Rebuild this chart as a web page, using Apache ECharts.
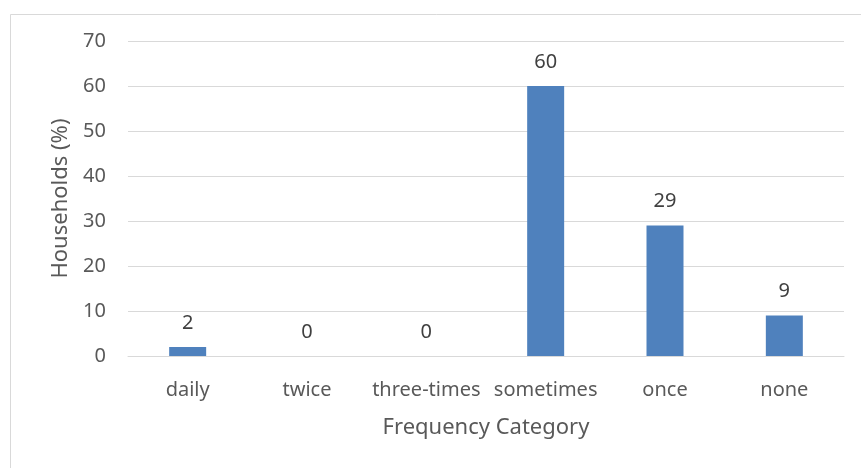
<!DOCTYPE html>
<html>
<head>
<meta charset="utf-8">
<style>
  html, body { margin: 0; padding: 0; background: #ffffff; }
  #chart { width: 861px; height: 468px; }
</style>
<script src="https://cdn.jsdelivr.net/npm/echarts@6/dist/echarts.min.js"></script>
</head>
<body>
<div id="chart"></div>
<script>
// Share of households by frequency category
const categories = ['daily', 'twice', 'three-times', 'sometimes', 'once', 'none'];
const households = [2, 0, 0, 60, 29, 9];
const yTicks = { min: 0, max: 70, interval: 10 };

const FONT = '"Noto Sans", "Open Sans", sans-serif';
const chart = echarts.init(document.getElementById('chart'), null, { renderer: 'canvas' });

chart.setOption({
  animation: false,
  backgroundColor: '#ffffff',
  graphic: [{
    type: 'rect',
    left: 8, top: 12,
    shape: { x: 0.5, y: 0.5, width: 900, height: 500 },
    style: { fill: 'none', stroke: '#d9d9d9', lineWidth: 1 },
    silent: true
  }],
  grid: { left: 128, right: 17, top: 41, bottom: 112, containLabel: false },
  xAxis: {
    type: 'category',
    data: categories,
    name: 'Frequency Category',
    nameLocation: 'middle',
    nameGap: 61,
    nameTextStyle: { fontFamily: FONT, fontSize: 22, color: '#595959' },
    axisLine: { show: true, lineStyle: { color: '#d9d9d9', width: 1 } },
    axisTick: { show: false },
    axisLabel: { fontFamily: FONT, fontSize: 20, color: '#595959', margin: 24, interval: 0 }
  },
  yAxis: {
    type: 'value',
    min: yTicks.min, max: yTicks.max, interval: yTicks.interval,
    name: 'Households (%)',
    nameLocation: 'middle',
    nameGap: 56,
    nameTextStyle: { fontFamily: FONT, fontSize: 22, color: '#595959' },
    axisLine: { show: false },
    axisTick: { show: false },
    axisLabel: { fontFamily: FONT, fontSize: 20, color: '#595959', margin: 22 },
    splitLine: { lineStyle: { color: '#d9d9d9', width: 1 } }
  },
  series: [{
    type: 'bar',
    data: households,
    barWidth: '31%',
    itemStyle: { color: '#4f81bd' },
    label: {
      show: true,
      position: 'top',
      distance: 14,
      fontFamily: FONT,
      fontSize: 20,
      color: '#404040'
    }
  }]
});
</script>
</body>
</html>
